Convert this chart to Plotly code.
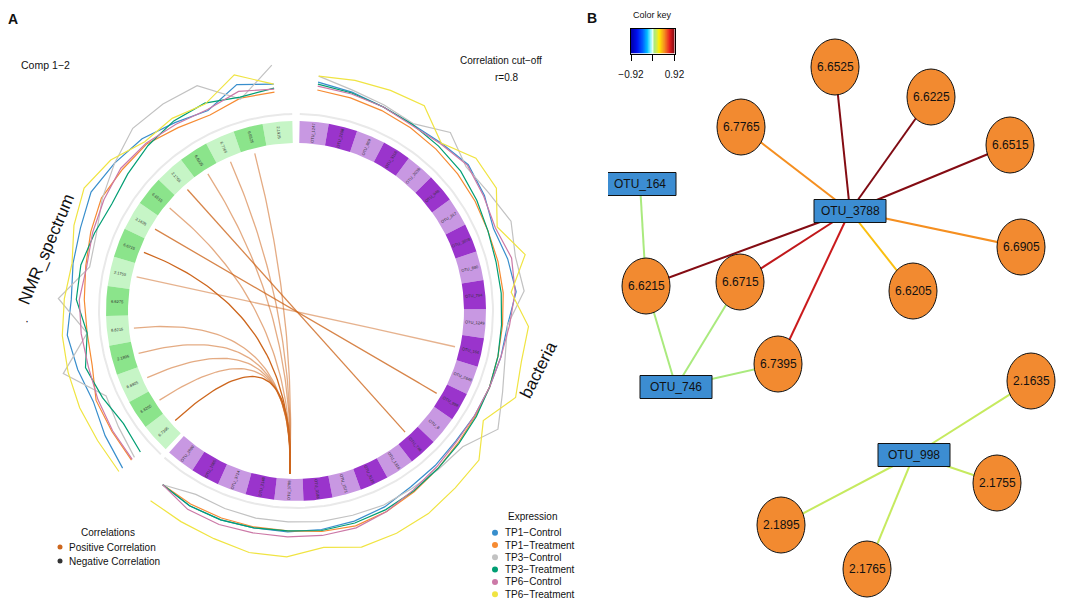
import numpy as np
import plotly.graph_objects as go
from plotly.colors import sample_colorscale

SW, SH = 1084, 610         # screen size the layout was measured in
OFF = 8                    # page body margin offset
FW, FH = SW - OFF, SH - OFF
CX, CY = 296, 311          # centre of the circos plot in screen pixels
FONT = "Liberation Sans, Arial, sans-serif"

# ---------------- Panel A data ----------------
nmr_labels = ["6.7395", "6.6205", "6.6905", "2.1895", "6.6215", "6.6275", "2.1755", "6.6715",
              "2.1635", "6.6515", "2.1765", "6.6225", "6.7765", "6.6525", "2.1915"]
otu_labels = ["OTU_1247", "OTU_2198", "OTU_869", "OTU_3116", "OTU_2036", "OTU_948", "OTU_917",
              "OTU_3078", "OTU_880", "OTU_794", "OTU_1249", "OTU_164", "OTU_2648", "OTU_998",
              "OTU_8", "OTU_746", "OTU_1316", "OTU_3125", "OTU_1571", "OTU_3188", "OTU_3788",
              "OTU_2148", "OTU_3714", "OTU_1565", "OTU_2699"]

groups = ["TP1\u2212Control", "TP1\u2212Treatment", "TP3\u2212Control",
          "TP3\u2212Treatment", "TP6\u2212Control", "TP6\u2212Treatment"]
group_colors = ["#388ECC", "#F68B33", "#C2C2C2", "#009E73", "#CC79A7", "#F0E442"]

# mean expression per feature (NMR block, in segment order)
expr_nmr_tp1_control = [0.68, 0.56, 0.44, 0.52, 0.60, 0.50, 0.56, 0.62, 0.74, 0.68, 0.62, 0.48, 0.38, 0.68, 0.56]
expr_nmr_tp1_treatment = [0.44, 0.40, 0.38, 0.22, 0.20, 0.24, 0.30, 0.40, 0.50, 0.48, 0.48, 0.36, 0.28, 0.40, 0.40]
expr_nmr_tp3_control = [0.36, 0.24, 0.16, 0.82, 0.20, 0.76, 0.22, 0.28, 0.48, 0.68, 0.90, 0.92, 0.92, 0.38, 0.94]
expr_nmr_tp3_treatment = [0.20, 0.12, 0.24, 0.36, 0.20, 0.40, 0.40, 0.32, 0.26, 0.34, 0.44, 0.52, 0.54, 0.42, 0.48]
expr_nmr_tp6_control = [0.42, 0.38, 0.34, 0.30, 0.32, 0.34, 0.28, 0.36, 0.44, 0.52, 0.50, 0.44, 0.40, 0.54, 0.46]
expr_nmr_tp6_treatment = [0.78, 0.74, 0.74, 0.72, 0.70, 0.64, 0.58, 0.76, 0.90, 0.78, 0.54, 0.58, 0.52, 0.88, 0.56]

# mean expression per feature (bacteria block, in segment order)
expr_otu_tp1_control = [0.60, 0.52, 0.44, 0.40, 0.44, 0.52, 0.42, 0.28, 0.36, 0.42, 0.24, 0.20, 0.16, 0.14, 0.12,
                        0.16, 0.20, 0.30, 0.36, 0.40, 0.42, 0.42, 0.44, 0.44, 0.38]
expr_otu_tp1_treatment = [0.44, 0.40, 0.36, 0.32, 0.28, 0.24, 0.20, 0.16, 0.16, 0.16, 0.14, 0.14, 0.16, 0.16, 0.18,
                          0.24, 0.32, 0.40, 0.46, 0.44, 0.40, 0.40, 0.40, 0.40, 0.38]
expr_otu_tp3_control = [0.72, 0.56, 0.48, 0.42, 0.72, 0.46, 0.52, 0.66, 0.52, 0.58, 0.24, 0.28, 0.44, 0.68, 0.30,
                        0.26, 0.24, 0.26, 0.24, 0.24, 0.22, 0.22, 0.20, 0.18, 0.38]
expr_otu_tp3_treatment = [0.56, 0.50, 0.44, 0.40, 0.36, 0.32, 0.24, 0.16, 0.12, 0.12, 0.12, 0.14, 0.16, 0.18, 0.20,
                          0.24, 0.30, 0.36, 0.40, 0.42, 0.40, 0.42, 0.44, 0.44, 0.38]
expr_otu_tp6_control = [0.52, 0.48, 0.44, 0.38, 0.42, 0.50, 0.40, 0.32, 0.44, 0.40, 0.28, 0.20, 0.16, 0.14, 0.14,
                        0.20, 0.28, 0.40, 0.50, 0.52, 0.52, 0.52, 0.54, 0.52, 0.38]
expr_otu_tp6_treatment = [0.72, 0.76, 0.80, 0.84, 0.44, 0.72, 0.70, 0.36, 0.72, 0.32, 0.66, 0.62, 0.72, 0.34, 0.72,
                          0.76, 0.84, 0.88, 0.90, 0.76, 0.92, 0.92, 0.84, 0.80, 0.78]

# correlations above cut-off (NMR feature -> OTU)
chord_nmr = ["6.7395", "6.6205", "6.6905", "2.1895", "6.6215", "2.1755", "6.6715", "2.1635",
             "6.6515", "2.1765", "6.6225", "6.7765", "6.6525"]
chord_otu = ["OTU_3788", "OTU_3788", "OTU_3788", "OTU_3788", "OTU_3788", "OTU_164", "OTU_3788",
             "OTU_998", "OTU_3788", "OTU_746", "OTU_3788", "OTU_3788", "OTU_3788"]
chord_r = [0.92, 0.83, 0.83, 0.83, 0.83, 0.82, 0.92, 0.88, 0.83, 0.88, 0.83, 0.83, 0.83]

# ---------------- Panel B data ----------------
net_nodes = ["6.6525", "6.6225", "6.7765", "6.6515", "OTU_164", "OTU_3788", "6.6905", "6.6215",
             "6.6715", "6.6205", "6.7395", "OTU_746", "2.1635", "OTU_998", "2.1755", "2.1895", "2.1765"]
net_x = [835, 931, 741, 1010, 640, 850, 1021, 646, 740, 913, 778, 676, 1031, 914, 997, 781, 867]
net_y = [67, 97, 127, 145, 184, 211, 247, 286, 282, 291, 364, 387, 381, 455, 483, 525, 569]
edge_src = ["OTU_3788"] * 9 + ["OTU_164", "OTU_746", "OTU_746", "OTU_746",
                                "OTU_998", "OTU_998", "OTU_998", "OTU_998"]
edge_dst = ["6.6525", "6.6225", "6.7765", "6.6515", "6.6905", "6.6205", "6.6215", "6.6715", "6.7395",
            "6.6215", "6.6215", "6.6715", "6.7395", "2.1635", "2.1755", "2.1895", "2.1765"]
edge_corr = [0.90, 0.91, 0.48, 0.90, 0.48, 0.37, 0.90, 0.78, 0.76,
             0.06, 0.06, 0.06, 0.06, 0.13, 0.13, 0.13, 0.13]
key_min, key_max = -0.92, 0.92

key_scale = [[0.0, "#0000A8"], [0.14, "#0010F0"], [0.27, "#0060FF"], [0.37, "#00C0FF"],
             [0.45, "#90F4FF"], [0.49, "#D8FFF0"], [0.5, "#FFFFFF"], [0.51, "#D0F7B0"],
             [0.53, "#A8EA80"], [0.58, "#CDEA58"], [0.64, "#FFF000"], [0.76, "#F59020"],
             [0.88, "#E82020"], [1.0, "#7A0A12"]]

# ---------------- helpers ----------------
R_IN, R_OUT, R_TRACK, R_CHORD = 168, 190, 197, 163
EXPR_BASE, EXPR_SCALE = 200, 50
NMR_START, NMR_END = 223.3, 358.9
OTU_START, OTU_END = 1.1, 221.9


def pol(r, th):
    t = np.radians(th)
    return r * np.sin(t), r * np.cos(t)


def paper(xs, ys):
    return (xs - OFF) / FW, 1 - (ys - OFF) / FH


def ax(xs, ys):
    return xs - CX, CY - ys


fig = go.Figure()

nmr_w = (NMR_END - NMR_START) / len(nmr_labels)
otu_w = (OTU_END - OTU_START) / len(otu_labels)
nmr_c = [NMR_START + nmr_w * (i + 0.5) for i in range(len(nmr_labels))]
otu_c = [OTU_START + otu_w * (i + 0.5) for i in range(len(otu_labels))]

# grey outer track
for a, b in [(NMR_START, NMR_END), (OTU_START, OTU_END)]:
    th = np.linspace(a, b, 120)
    x, y = pol(R_TRACK, th)
    fig.add_trace(go.Scatter(x=x, y=y, mode="lines", line=dict(color="#E9E9E9", width=2),
                             hoverinfo="skip", showlegend=False))


def seg_trace(start, width, n, parity, color):
    xs, ys = [], []
    for i in range(n):
        if i % 2 != parity:
            continue
        th = np.linspace(start + width * i, start + width * (i + 1), 12)
        xo, yo = pol(R_OUT, th)
        xi, yi = pol(R_IN, th[::-1])
        xs += list(xo) + list(xi) + [xo[0], None]
        ys += list(yo) + list(yi) + [yo[0], None]
    return go.Scatter(x=xs, y=ys, mode="lines", fill="toself", fillcolor=color,
                      line=dict(width=0, color=color), hoverinfo="skip", showlegend=False)


fig.add_trace(seg_trace(NMR_START, nmr_w, len(nmr_labels), 0, "#C6F5C6"))
fig.add_trace(seg_trace(NMR_START, nmr_w, len(nmr_labels), 1, "#8BE48B"))
fig.add_trace(seg_trace(OTU_START, otu_w, len(otu_labels), 0, "#C898E2"))
fig.add_trace(seg_trace(OTU_START, otu_w, len(otu_labels), 1, "#9A34CC"))

# chords (quadratic Bezier through the centre)
t = np.linspace(0, 1, 60)
for a, b, r in zip(chord_nmr, chord_otu, chord_r):
    x0, y0 = pol(R_CHORD, nmr_c[nmr_labels.index(a)])
    x2, y2 = pol(R_CHORD, otu_c[otu_labels.index(b)])
    bx = (1 - t) ** 2 * x0 + t ** 2 * x2
    by = (1 - t) ** 2 * y0 + t ** 2 * y2
    alpha = 0.4 + (r - 0.8) / 0.12 * 0.6
    fig.add_trace(go.Scatter(x=bx, y=by, mode="lines",
                             line=dict(color=f"rgba(205,102,29,{alpha:.2f})", width=1.3),
                             hoverinfo="skip", showlegend=False))

# expression lines
nmr_expr = [expr_nmr_tp1_control, expr_nmr_tp1_treatment, expr_nmr_tp3_control,
            expr_nmr_tp3_treatment, expr_nmr_tp6_control, expr_nmr_tp6_treatment]
otu_expr = [expr_otu_tp1_control, expr_otu_tp1_treatment, expr_otu_tp3_control,
            expr_otu_tp3_treatment, expr_otu_tp6_control, expr_otu_tp6_treatment]
for g, col, ve, vo in zip(groups, group_colors, nmr_expr, otu_expr):
    xs, ys = [], []
    for cents, vals in [(nmr_c, ve), (otu_c, vo)]:
        r = EXPR_BASE + EXPR_SCALE * np.array(vals)
        x, y = pol(r, np.array(cents))
        xs += list(x) + [None]
        ys += list(y) + [None]
    fig.add_trace(go.Scatter(x=xs, y=ys, mode="lines", line=dict(color=col, width=1.2),
                             hoverinfo="skip", showlegend=False))

annotations = []

# segment labels
R_LAB = (R_IN + R_OUT) / 2
for labs, cents in [(nmr_labels, nmr_c), (otu_labels, otu_c)]:
    for lab, th in zip(labs, cents):
        x, y = pol(R_LAB, th)
        ang = th - 90 if th <= 180 else th - 270
        annotations.append(dict(x=x, y=y, xref="x", yref="y", text=lab, showarrow=False,
                                textangle=ang, font=dict(size=4, color="#333333", family=FONT)))

# legends of panel A (drawn as markers + text)
leg_corr = ["Positive Correlation", "Negative Correlation"]
leg_corr_col = ["#CD661D", "#333333"]
lx, ly = [], []
for i in range(2):
    px, py = ax(60, 547 + 14 * i)
    lx.append(px); ly.append(py)
fig.add_trace(go.Scatter(x=lx, y=ly, mode="markers", marker=dict(size=5, color=leg_corr_col),
                         hoverinfo="skip", showlegend=False))
ex, ey = [], []
for i in range(len(groups)):
    px, py = ax(495, 532.7 + 12.3 * i)
    ex.append(px); ey.append(py)
fig.add_trace(go.Scatter(x=ex, y=ey, mode="markers", marker=dict(size=6, color=group_colors),
                         hoverinfo="skip", showlegend=False))


def txt(xs, ys, s, size=10, anchor="center", angle=0, bold=False):
    x, y = paper(xs, ys)
    if bold:
        s = f"<b>{s}</b>"
    annotations.append(dict(x=x, y=y, xref="paper", yref="paper", text=s, showarrow=False,
                            xanchor=anchor, yanchor="middle", textangle=angle,
                            font=dict(size=size, color="#111111", family=FONT)))


txt(13, 19, "A", 14, bold=True)
txt(592, 18, "B", 14, bold=True)
txt(19, 65, "Comp 1\u22122", 10.5, anchor="left")
txt(501, 61, "Correlation cut\u2212off", 10)
txt(507, 77, "r=0.8", 10)
txt(46, 249, "NMR_spectrum", 17, angle=-67)
txt(27, 321, "\u00b7", 12)
txt(538, 370, "bacteria", 17, angle=-63)
txt(108, 532, "Correlations", 10)
for i, s in enumerate(leg_corr):
    txt(67, 547 + 14 * i, s, 10, anchor="left")
txt(532, 516, "Expression", 10)
for i, s in enumerate(groups):
    txt(503, 532.7 + 12.3 * i, s, 10, anchor="left")
txt(652, 15, "Color key", 9)

# ---------------- Panel B: network ----------------
pos = {n: (x, y) for n, x, y in zip(net_nodes, net_x, net_y)}
norm = [(c - key_min) / (key_max - key_min) for c in edge_corr]
ecols = sample_colorscale(key_scale, norm)
for s, d, c in zip(edge_src, edge_dst, ecols):
    fig.add_trace(go.Scatter(x=[pos[s][0], pos[d][0]], y=[pos[s][1], pos[d][1]], mode="lines",
                             line=dict(color=c, width=2), xaxis="x2", yaxis="y2",
                             hoverinfo="skip", showlegend=False))

shapes = []
for n, x, y in zip(net_nodes, net_x, net_y):
    if n.startswith("OTU"):
        shapes.append(dict(type="rect", xref="x2", yref="y2", x0=x - 36, x1=x + 36,
                           y0=y - 11.5, y1=y + 11.5, fillcolor="#3C8DD2",
                           line=dict(color="#111111", width=1)))
    else:
        shapes.append(dict(type="circle", xref="x2", yref="y2", x0=x - 24, x1=x + 24,
                           y0=y - 28, y1=y + 28, fillcolor="#F28A30",
                           line=dict(color="#111111", width=1)))
    annotations.append(dict(x=x, y=y, xref="x2", yref="y2", text=n, showarrow=False,
                            font=dict(size=12, color="#111111", family=FONT)))

# colour key
key_vals = np.linspace(key_min, key_max, 200)
fig.add_trace(go.Heatmap(z=[key_vals], x=key_vals, y=[0], colorscale=key_scale,
                         zmin=key_min, zmax=key_max, showscale=False, xaxis="x3", yaxis="y3",
                         hoverinfo="skip"))

XA = 608 - OFF  # screen x 608 is the split between the panels
fig.update_layout(
    width=FW, height=FH, margin=dict(l=0, r=0, t=0, b=0, autoexpand=False),
    paper_bgcolor="white", plot_bgcolor="white", showlegend=False,
    xaxis=dict(domain=[0, XA / FW], range=[OFF - CX, 608 - CX], visible=False, anchor="y"),
    yaxis=dict(domain=[0, 1], range=[CY - SH, CY - OFF], visible=False, anchor="x"),
    xaxis2=dict(domain=[XA / FW, 1], range=[608, SW], visible=False, anchor="y2"),
    yaxis2=dict(domain=[0, 1], range=[SH, OFF], visible=False, anchor="x2"),
    xaxis3=dict(domain=[(631 - OFF) / FW, (674.5 - OFF) / FW], range=[key_min, key_max], anchor="y3",
                showline=True, mirror=True, linecolor="black", linewidth=1, ticks="outside",
                ticklen=6, tickcolor="black", tickvals=[key_min, 0, key_max],
                ticktext=["\u22120.92", "", "0.92"], tickfont=dict(size=10, family=FONT, color="#111"),
                showgrid=False, zeroline=False, ticklabelstandoff=5, automargin=False),
    yaxis3=dict(domain=[1 - (53.5 - OFF) / FH, 1 - (28.5 - OFF) / FH], range=[-0.5, 0.5], anchor="x3",
                showline=True, mirror=True, linecolor="black", linewidth=1,
                showticklabels=False, ticks="", showgrid=False, zeroline=False,
                automargin=False),
    annotations=annotations, shapes=shapes,
)

fig.write_html("out.html")
